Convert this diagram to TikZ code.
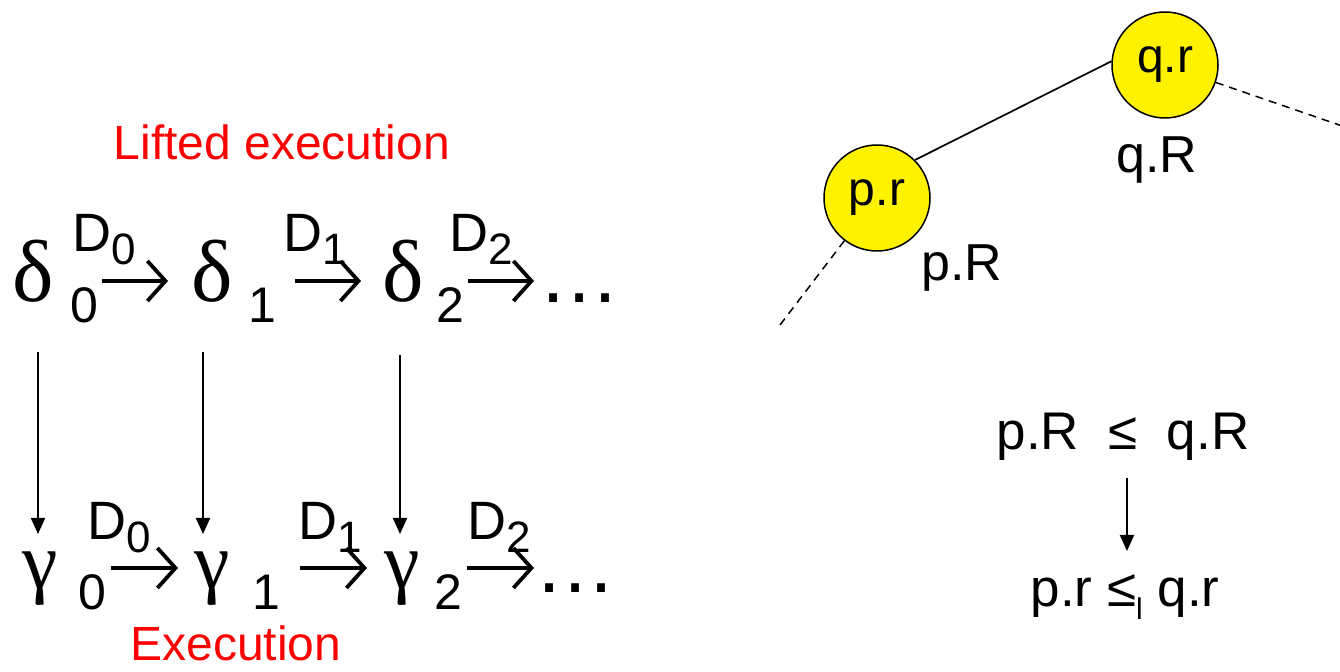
\documentclass[tikz,border=0pt]{standalone}
\usepackage{fontspec}
\setmainfont{Liberation Sans}
\newfontfamily\grk{Liberation Serif}
\usetikzlibrary{arrows.meta}
\begin{document}
\begin{tikzpicture}[x=0.5pt,y=-0.5pt,
  greek/.style={font=\grk\fontsize{44}{48}\selectfont, inner sep=0, anchor=base},
  gamma/.style={font=\grk\fontsize{40}{44}\selectfont, inner sep=0, anchor=base},
  idx/.style={font=\fontsize{25}{28}\selectfont, inner sep=0, anchor=base},
  lbl/.style={font=\fontsize{27}{30}\selectfont, inner sep=0, anchor=base west},
  dots/.style={font=\fontsize{41}{44}\selectfont, inner sep=0, anchor=base west},
  harr/.style={line width=1.9pt, -{Straight Barb[length=9pt,width=20pt]}},
  varr/.style={line width=1pt, -{Triangle[length=8pt,width=7pt]}},
  title/.style={font=\fontsize{24}{28}\selectfont, text=red, inner sep=0, anchor=base},
  ball/.style={circle, draw, line width=0.75pt, fill=yellow, minimum size=53pt, inner sep=0, font=\fontsize{24}{26}\selectfont},
  txt/.style={font=\fontsize{26}{29}\selectfont, inner sep=0},
  rel/.style={font=\fontsize{26.5}{29}\selectfont, inner sep=0},
  dsh/.style={line width=0.75pt, dash pattern=on 4pt off 3pt}
]
\useasboundingbox (0,0) rectangle (1340,672);
\newcommand{\sub}[1]{\raisebox{-6.5pt}{\fontsize{22}{22}\selectfont #1}}

% left: lifted execution
\node[title] (lift) at (282,160) {Lifted execution};
\node[greek] (d0) at (33,302) {δ};
\node[idx] (s0) at (84,323) {0};
\node[greek] (d1) at (212,302) {δ};
\node[idx] (s1) at (262,323) {1};
\node[greek] (d2) at (403,302) {δ};
\node[idx] (s2) at (450,323) {2};
\node[lbl] (D0) at (72,252) {D\sub{0}};
\node[lbl] (D1) at (283,252) {D\sub{1}};
\node[lbl] (D2) at (449,252) {D\sub{2}};
\node[dots] (e1) at (538,303) {…};
\coordinate (a0s) at (102,281); \coordinate (a0e) at (168,281);
\coordinate (a1s) at (295,281); \coordinate (a1e) at (361,281);
\coordinate (a2s) at (468,281); \coordinate (a2e) at (534,281);
\draw[harr] (a0s) -- (a0e);
\draw[harr] (a1s) -- (a1e);
\draw[harr] (a2s) -- (a2e);

% execution
\node[gamma] (g0) at (40,589) {γ};
\node[idx] (t0) at (92,610) {0};
\node[gamma] (g1) at (212,589) {γ};
\node[idx] (t1) at (266,610) {1};
\node[gamma] (g2) at (402,589) {γ};
\node[idx] (t2) at (448,610) {2};
\node[lbl] (E0) at (87,540) {D\sub{0}};
\node[lbl] (E1) at (298,540) {D\sub{1}};
\node[lbl] (E2) at (467,540) {D\sub{2}};
\node[dots] (e2) at (534,593) {…};
\coordinate (b0s) at (111,568); \coordinate (b0e) at (178,568);
\coordinate (b1s) at (300,568); \coordinate (b1e) at (367,568);
\coordinate (b2s) at (467,568); \coordinate (b2e) at (534,568);
\draw[harr] (b0s) -- (b0e);
\draw[harr] (b1s) -- (b1e);
\draw[harr] (b2s) -- (b2e);
\node[title] (exe) at (236,661) {Execution};

% vertical arrows
\coordinate (v0s) at (38,352); \coordinate (v0e) at (38,534);
\coordinate (v1s) at (203,352); \coordinate (v1e) at (203,534);
\coordinate (v2s) at (400,355); \coordinate (v2e) at (400,534);
\draw[varr] (v0s) -- (v0e);
\draw[varr] (v1s) -- (v1e);
\draw[varr] (v2s) -- (v2e);

% right: tree
\node[ball] (qr) at (1165,65) {q.r};
\node[ball] (pr) at (877,198) {p.r};
\draw[line width=0.85pt] (pr.45) -- (qr.176);
\coordinate (qout) at (1348,128);
\coordinate (pout) at (780,325);
\draw[dsh] (qr) -- (qout);
\draw[dsh] (pr) -- (pout);
\node[txt] (qR) at (1157,160) {q.R};
\node[txt] (pR) at (962,268) {p.R};

\node[rel] (top) at (1123,437) {p.R \ ≤ \ q.R};
\node[rel] (bot) at (1125,597) {p.r ≤\raisebox{-0.25em}{\fontsize{15}{15}\selectfont l} q.r};
\coordinate (ms) at (1127,478); \coordinate (me) at (1127,551);
\draw[varr] (ms) -- (me);
\end{tikzpicture}
\end{document}
